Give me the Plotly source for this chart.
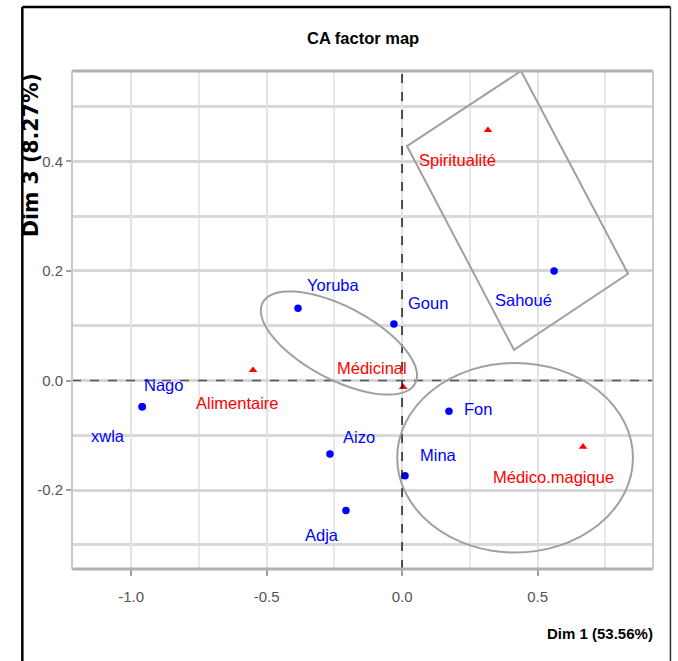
import numpy as np
import plotly.graph_objects as go

# Correspondence analysis coordinates (Dim 1, Dim 3)
row_names = ["Yoruba", "Goun", "Nago", "xwla", "Aizo", "Adja", "Mina", "Fon", "Sahoué"]
row_dim1 = [-0.384, -0.030, -0.959, -0.959, -0.266, -0.207, 0.011, 0.173, 0.561]
row_dim3 = [0.132, 0.103, -0.048, -0.048, -0.134, -0.237, -0.174, -0.056, 0.200]

col_names = ["Médicinal", "Alimentaire", "Médico.magique", "Spiritualité"]
col_dim1 = [0.004, -0.550, 0.668, 0.317]
col_dim3 = [-0.012, 0.019, -0.121, 0.457]

# label placement (pixel shifts from each point, repel-style)
row_label_shift = {
    "Yoruba": (35, 23), "Goun": (34, 21), "Nago": (21, 22), "xwla": (-34, -29),
    "Aizo": (29, 17), "Adja": (-24, -25), "Mina": (33, 21), "Fon": (29, 2),
    "Sahoué": (-31, -29),
}
col_label_shift = {
    "Médicinal": (-31, 19), "Alimentaire": (-16, -33),
    "Médico.magique": (-30, -30), "Spiritualité": (-30, -30),
}

SANS = "Liberation Sans, Arial, sans-serif"
BLUE = "#0000ff"
RED = "#ff0000"
LABEL_SIZE = 16.5

fig = go.Figure()

fig.add_trace(go.Scatter(
    x=row_dim1, y=row_dim3, mode="markers",
    marker=dict(symbol="circle", size=7.5, color=BLUE),
    hoverinfo="text", hovertext=row_names, showlegend=False,
))
fig.add_trace(go.Scatter(
    x=col_dim1, y=col_dim3, mode="markers",
    marker=dict(symbol="triangle-up", size=7.5, color=RED),
    hoverinfo="text", hovertext=col_names, showlegend=False,
))

for name, x, y in zip(row_names, row_dim1, row_dim3):
    dx, dy = row_label_shift[name]
    fig.add_annotation(x=x, y=y, text=name, showarrow=False, xshift=dx, yshift=dy,
                       font=dict(family=SANS, size=LABEL_SIZE, color=BLUE))
for name, x, y in zip(col_names, col_dim1, col_dim3):
    dx, dy = col_label_shift[name]
    fig.add_annotation(x=x, y=y, text=name, showarrow=False, xshift=dx, yshift=dy,
                       font=dict(family=SANS, size=LABEL_SIZE, color=RED))

# origin reference lines
fig.add_shape(type="line", x0=0, x1=0, y0=0, y1=1, xref="x", yref="paper",
              line=dict(color="black", width=1.3, dash="dash"))
fig.add_shape(type="line", x0=0, x1=1, y0=0, y1=0, xref="paper", yref="y",
              line=dict(color="#555555", width=1.6, dash="dash"))


def ellipse_path(cx, cy, ux, uy, vx, vy, n=120):
    t = np.linspace(0, 2 * np.pi, n)
    xs = cx + ux * np.cos(t) + vx * np.sin(t)
    ys = cy + uy * np.cos(t) + vy * np.sin(t)
    pts = [f"{a:.5f},{b:.5f}" for a, b in zip(xs, ys)]
    return "M " + " L ".join(pts) + " Z"


GROUP_LINE = dict(color="#a0a0a0", width=2)
# tilted ellipse around Yoruba / Goun / Médicinal
fig.add_shape(type="path", xref="x", yref="y", line=GROUP_LINE,
              path=ellipse_path(-0.233, 0.0685, 0.282, -0.0731, -0.0594, -0.0594))
# ellipse around Fon / Mina / Médico.magique
fig.add_shape(type="circle", xref="x", yref="y", line=GROUP_LINE,
              x0=0.417 - 0.435, x1=0.417 + 0.435, y0=-0.141 - 0.173, y1=-0.141 + 0.173)
# rotated rectangle around Spiritualité / Sahoué
fig.add_shape(type="path", xref="x", yref="y", line=GROUP_LINE,
              path="M 0.439,0.565 L 0.834,0.195 L 0.413,0.056 L 0.018,0.428 Z")

# panel border
fig.add_shape(type="line", xref="paper", yref="paper", x0=0, x1=1, y0=1, y1=1,
              line=dict(color="#b0b0b0", width=3))
fig.add_shape(type="line", xref="paper", yref="paper", x0=0, x1=1, y0=0, y1=0,
              line=dict(color="#b0b0b0", width=3))
fig.add_shape(type="line", xref="paper", yref="paper", x0=0, x1=0, y0=0, y1=1,
              line=dict(color="#c8c8c8", width=2))
fig.add_shape(type="line", xref="paper", yref="paper", x0=1, x1=1, y0=0, y1=1,
              line=dict(color="#c8c8c8", width=2))

# outer frame
fig.add_shape(type="line", xref="paper", yref="paper", x0=-0.0855, x1=1.03, y0=1.1285, y1=1.1285,
              line=dict(color="black", width=2.5))
fig.add_shape(type="line", xref="paper", yref="paper", x0=-0.0855, x1=-0.0855, y0=-0.2, y1=1.1285,
              line=dict(color="black", width=2.5))
fig.add_shape(type="line", xref="paper", yref="paper", x0=1.03, x1=1.03, y0=-0.2, y1=1.1285,
              line=dict(color="#333333", width=1.5))

tick_font = dict(family=SANS, size=15, color="#555555")
fig.update_xaxes(
    range=[-1.218, 0.926], tickvals=[-1.0, -0.5, 0.0, 0.5],
    ticktext=["-1.0", "-0.5", "0.0", "0.5"], tickfont=tick_font,
    showgrid=True, gridcolor="#e3e3e3", gridwidth=2,
    minor=dict(dtick=0.25, tick0=0, showgrid=True, gridcolor="#e8e8e8", gridwidth=2),
    ticks="outside", ticklen=6, tickcolor="#a0a0a0", tickwidth=1.5,
    ticklabelstandoff=8,
    zeroline=False, showline=False,
)
fig.update_yaxes(
    range=[-0.344, 0.565], tickvals=[-0.2, 0.0, 0.2, 0.4],
    ticktext=["-0.2", "0.0", "0.2", "0.4"], tickfont=tick_font,
    showgrid=True, gridcolor="#d6d6d6", gridwidth=3,
    minor=dict(dtick=0.1, tick0=0, showgrid=True, gridcolor="#d9d9d9", gridwidth=3),
    ticks="outside", ticklen=5, tickcolor="#a0a0a0", tickwidth=1.5,
    zeroline=False, showline=False,
)

# titles
fig.add_annotation(text="<b>CA factor map</b>", xref="paper", yref="paper",
                   x=0.5, y=1.0, xanchor="center", yanchor="middle", yshift=33,
                   showarrow=False, font=dict(family=SANS, size=16.5, color="black"))
fig.add_annotation(text="<b>Dim 1 (53.56%)</b>", xref="paper", yref="paper",
                   x=1.0, y=0.0, xanchor="right", yanchor="middle", yshift=-64, xshift=2,
                   showarrow=False, font=dict(family=SANS, size=15, color="black"))
fig.add_annotation(text="<b>Dim 3 (8.27%)</b>", xref="paper", yref="paper",
                   x=0.0, y=1.0, xanchor="center", yanchor="middle", xshift=-41, yshift=-84,
                   textangle=-90, showarrow=False,
                   font=dict(family="DejaVu Sans, sans-serif", size=20.5, color="black"))

fig.update_layout(
    width=678, height=661,
    margin=dict(l=72, r=25, t=71, b=92),
    plot_bgcolor="white", paper_bgcolor="white",
    showlegend=False,
)

fig.write_html("out.html")
